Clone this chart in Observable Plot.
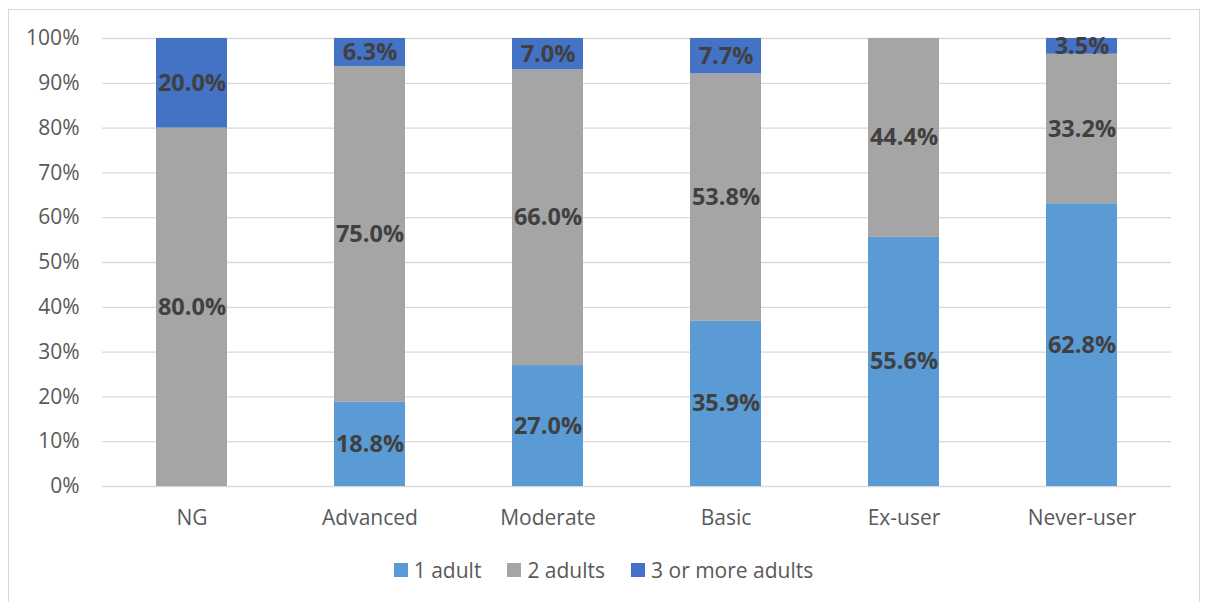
<!DOCTYPE html>
<html>
<head>
<meta charset="utf-8">
<script src="https://cdn.jsdelivr.net/npm/d3@7"></script>
<script src="https://cdn.jsdelivr.net/npm/@observablehq/plot@0.6"></script>
<style>
  html, body { margin: 0; padding: 0; background: #fff; }
  #wrap { position: relative; width: 1207px; height: 602px; overflow: hidden; font-family: "Open Sans", sans-serif; }
  #border { position: absolute; left: 8px; top: 9px; width: 1192px; height: 620px; border: 1px solid #d9d9d9; box-sizing: border-box; }
  #chart { position: absolute; left: 0; top: 0; }
  #legend { position: absolute; left: 0; top: 556px; width: 1207px; display: flex; justify-content: center; gap: 26px; font-size: 21px; color: #595959; }
  .item { display: flex; align-items: center; gap: 6px; }
  .sw { width: 14px; height: 14px; display: inline-block; }
</style>
</head>
<body>
<div id="wrap">
  <div id="border"></div>
  <div id="chart"></div>
  <div id="legend"></div>
</div>
<script>
const categories = ["NG", "Advanced", "Moderate", "Basic", "Ex-user", "Never-user"];
const seriesNames = ["1 adult", "2 adults", "3 or more adults"];
const oneAdult = [0, 18.8, 27.0, 35.9, 55.6, 62.8];
const twoAdults = [80.0, 75.0, 66.0, 53.8, 44.4, 33.2];
const threePlus = [20.0, 6.3, 7.0, 7.7, 0, 3.5];
const colors = ["#5B9BD5", "#A5A5A5", "#4472C4"];
const yTicks = [0, 0.1, 0.2, 0.3, 0.4, 0.5, 0.6, 0.7, 0.8, 0.9, 1.0];

const seriesValues = [oneAdult, twoAdults, threePlus];
const data = [];
categories.forEach((c, i) => {
  seriesNames.forEach((s, j) => {
    data.push({category: c, series: s, value: seriesValues[j][i]});
  });
});

const chart = Plot.plot({
  width: 1207,
  height: 540,
  marginLeft: 102,
  marginRight: 36,
  marginTop: 38,
  marginBottom: 54,
  style: {fontFamily: "'Open Sans', sans-serif", background: "transparent"},
  x: {domain: categories, paddingInner: 0.6, paddingOuter: 0.3, label: null},
  y: {domain: [0, 1], label: null},
  color: {domain: seriesNames, range: colors},
  marks: [
    Plot.ruleY(yTicks, {stroke: "#d9d9d9", strokeWidth: 1.3}),
    Plot.barY(data, Plot.stackY({offset: "normalize", x: "category", y: "value", z: "series", fill: "series"})),
    Plot.text(data, Plot.stackY({
      offset: "normalize", x: "category", y: "value", z: "series",
      text: d => d.value ? d.value.toFixed(1) + "%" : "",
      fill: "#404040", fontWeight: "bold", fontSize: 23.5
    })),
    Plot.axisY({ticks: yTicks, tickFormat: d3.format(".0%"), tickSize: 0, tickPadding: 23, fontSize: 21, color: "#595959", label: null}),
    Plot.axisX({tickSize: 0, tickPadding: 24, fontSize: 21, color: "#595959", label: null})
  ]
});
document.getElementById("chart").appendChild(chart);

const legend = document.getElementById("legend");
seriesNames.forEach((s, i) => {
  const it = document.createElement("div");
  it.className = "item";
  const sw = document.createElement("span");
  sw.className = "sw";
  sw.style.background = colors[i];
  const t = document.createElement("span");
  t.textContent = s;
  it.appendChild(sw);
  it.appendChild(t);
  legend.appendChild(it);
});
</script>
</body>
</html>
